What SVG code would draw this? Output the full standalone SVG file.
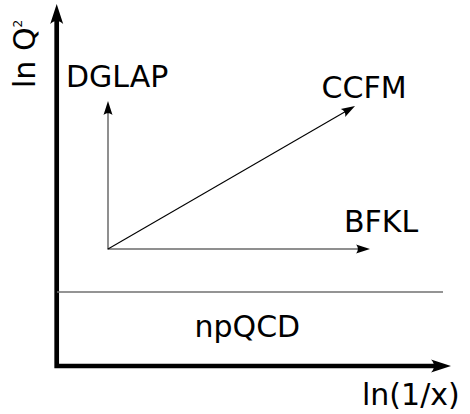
<svg xmlns="http://www.w3.org/2000/svg" width="470" height="414" viewBox="0 0 470 414">
  <style>
    .lbl { font-family: "DejaVu Sans", "Liberation Sans", sans-serif; font-size: 30px; fill: #000; }
    .axis { fill: none; stroke: #000; stroke-width: 4.7; stroke-linejoin: miter; }
    .thin-gray { fill: none; stroke: #6a6a6a; stroke-width: 1.5; }
    .thin-black { fill: none; stroke: #000; stroke-width: 1.1; }
    .sep { fill: none; stroke: #707070; stroke-width: 1.3; }
  </style>
  <defs>
    <!-- large head for the main axes; the path end sits at 0, the tip reaches +16 -->
    <marker id="headBig" markerUnits="userSpaceOnUse" orient="auto-start-reverse" overflow="visible" markerWidth="1" markerHeight="1" refX="0" refY="0">
      <path d="M16,0 L-4,-6.5 C0,-2.5 0,2.5 -4,6.5 Z" fill="#000"/>
    </marker>
    <!-- small head for the evolution arrows -->
    <marker id="headSmall" markerUnits="userSpaceOnUse" orient="auto" overflow="visible" markerWidth="1" markerHeight="1" refX="0" refY="0">
      <path d="M11,0 L-3,-4.5 C-0.5,-1.8 -0.5,1.8 -3,4.5 Z" fill="#000"/>
    </marker>
  </defs>

  <g id="connectors">
    <!-- coordinate axes -->
    <path id="axes" class="axis" d="M56.7,20 L56.7,366 L435,366" marker-start="url(#headBig)" marker-end="url(#headBig)"/>
    <!-- boundary of the non-perturbative region -->
    <line id="np-boundary" class="sep" x1="57" y1="292" x2="443" y2="292"/>
    <!-- evolution directions -->
    <line id="to-dglap" class="thin-gray" x1="108" y1="249" x2="108" y2="112" marker-end="url(#headSmall)"/>
    <line id="to-bfkl" class="thin-gray" x1="107.3" y1="249" x2="359" y2="249" marker-end="url(#headSmall)"/>
    <line id="to-ccfm" class="thin-black" x1="108" y1="249" x2="345.5" y2="111.5" marker-end="url(#headSmall)"/>
  </g>

  <g id="y-label">
    <text class="lbl" transform="translate(35,88) rotate(-90)" x="0" y="0">ln Q<tspan font-size="12" dy="-13">2</tspan></text>
  </g>
  <g id="x-label">
    <text class="lbl" x="362" y="405">ln(1/x)</text>
  </g>
  <g id="dglap">
    <text class="lbl" x="66" y="87">DGLAP</text>
  </g>
  <g id="ccfm">
    <text class="lbl" x="321.5" y="98">CCFM</text>
  </g>
  <g id="bfkl">
    <text class="lbl" x="344" y="232">BFKL</text>
  </g>
  <g id="npqcd">
    <text class="lbl" x="194.5" y="337">npQCD</text>
  </g>
</svg>
